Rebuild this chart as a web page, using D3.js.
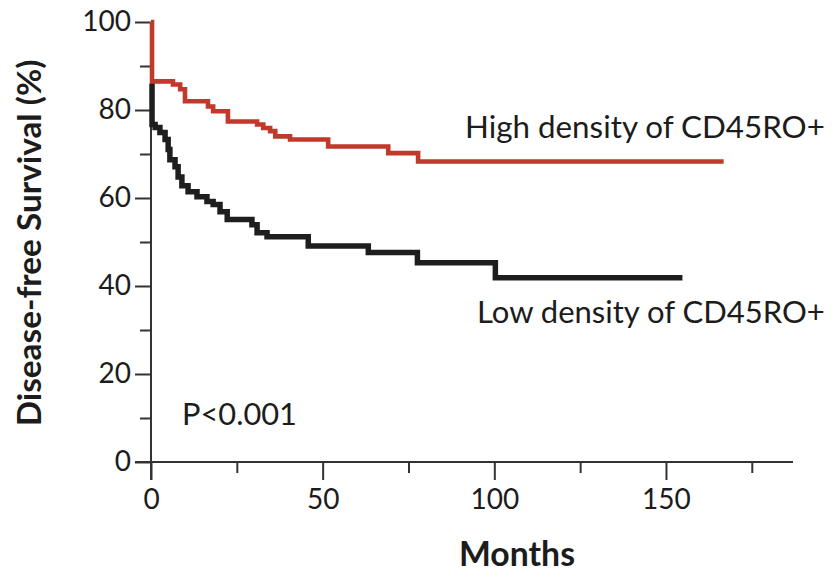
<!DOCTYPE html>
<html>
<head>
<meta charset="utf-8">
<script src="https://cdn.jsdelivr.net/npm/d3@7"></script>
<style>
  html, body { margin: 0; padding: 0; background: #fff; }
  svg { display: block; }
  text { font-family: Lato, "Open Sans", sans-serif; fill: #1c1c1c; }
</style>
</head>
<body>
<svg id="chart" width="832" height="575"></svg>
<script>
// ---- data ----
const highTimes  = [0, 0.3, 6.4, 8.5, 9.9, 16.6, 18.1, 22.4, 30.9, 32.7, 34.7, 36.2, 40.5, 51.6, 69.1, 77.8, 166.8];
const highValues = [100, 86.5, 85.8, 84.7, 82.0, 80.8, 79.7, 77.4, 76.7, 75.9, 75.2, 74.0, 73.3, 71.7, 70.2, 68.3, 68.3];
const lowTimes   = [0, 0.3, 1.2, 2.6, 4.1, 5.0, 5.5, 7.0, 7.9, 9.0, 10.8, 13.4, 16.3, 18.1, 20.1, 22.2, 29.4, 30.9, 33.8, 45.8, 63.3, 77.6, 100.3, 154.8];
const lowValues  = [86, 76.7, 76.0, 74.9, 73.3, 71.0, 68.7, 67.1, 64.8, 62.8, 61.4, 60.3, 59.2, 58.5, 56.9, 55.1, 53.9, 52.1, 51.2, 49.1, 47.6, 45.3, 41.9, 41.9];
const xMajorTicks = [0, 50, 100, 150];
const xMinorTicks = [25, 75, 125, 175];
const yMajorTicks = [0, 20, 40, 60, 80, 100];
const yMinorTicks = [10, 30, 50, 70, 90];
const seriesLabels = ["High density of CD45RO+", "Low density of CD45RO+"];
const pLabel = "P<0.001";
const xTitle = "Months";
const yTitle = "Disease-free Survival (%)";

// ---- layout ----
const svg = d3.select("#chart");
const x = d3.scaleLinear().domain([0, 187]).range([151, 793]);
const y = d3.scaleLinear().domain([0, 100]).range([462, 22]);
const axisColor = "#333";

function fit(sel, w) {
  const node = sel.node();
  const len = node.getComputedTextLength();
  const fs = parseFloat(sel.attr("font-size"));
  sel.attr("font-size", (fs * w / len).toFixed(2));
  return sel;
}

// axis lines
svg.append("line").attr("x1", x(0)).attr("x2", x(0)).attr("y1", y(100)).attr("y2", y(0) + 18)
  .attr("stroke", axisColor).attr("stroke-width", 2);
svg.append("line").attr("x1", x(0) - 16).attr("x2", x(187)).attr("y1", y(0)).attr("y2", y(0))
  .attr("stroke", axisColor).attr("stroke-width", 2);

// y axis ticks
const gy = svg.append("g").attr("transform", `translate(${x(0)},0)`)
  .call(d3.axisLeft(y).tickValues(yMajorTicks).tickSize(16).tickPadding(4).tickFormat(d3.format("d")));
const gyMinor = svg.append("g").attr("transform", `translate(${x(0)},0)`)
  .call(d3.axisLeft(y).tickValues(yMinorTicks).tickSize(11).tickFormat(""));

// x axis ticks
const gx = svg.append("g").attr("transform", `translate(0,${y(0)})`)
  .call(d3.axisBottom(x).tickValues(xMajorTicks).tickSize(18).tickPadding(8).tickFormat(d3.format("d")));
const gxMinor = svg.append("g").attr("transform", `translate(0,${y(0)})`)
  .call(d3.axisBottom(x).tickValues(xMinorTicks).tickSize(11).tickFormat(""));

[gy, gyMinor, gx, gxMinor].forEach(g => {
  g.select(".domain").remove();
  g.selectAll(".tick line").attr("stroke", axisColor).attr("stroke-width", 2);
  g.selectAll(".tick text").attr("font-size", 28).attr("font-family", "Lato, sans-serif").attr("fill", "#1c1c1c");
});
gx.selectAll(".tick text").attr("dy", "0.75em");

// curves
const line = d3.line().x(d => x(d[0])).y(d => y(d[1])).curve(d3.curveStepAfter);
const lowData = lowTimes.map((t, i) => [t, lowValues[i]]);
const highData = highTimes.map((t, i) => [t, highValues[i]]);
svg.append("path").datum(lowData).attr("d", line)
  .attr("fill", "none").attr("stroke", "#1e1e1e").attr("stroke-width", 5.5).attr("stroke-linejoin", "miter");
svg.append("path").datum(highData).attr("d", line)
  .attr("fill", "none").attr("stroke", "#c0392b").attr("stroke-width", 4.6).attr("stroke-linejoin", "miter");

// series labels
const t1 = svg.append("text").attr("x", 465).attr("y", 138).attr("font-size", 26).text(seriesLabels[0]);
fit(t1, 360);
const t2 = svg.append("text").attr("x", 477).attr("y", 323).attr("font-size", 26).text(seriesLabels[1]);
fit(t2, 348);
const tp = svg.append("text").attr("x", 182).attr("y", 425).attr("font-size", 26).text(pLabel);
fit(tp, 115);

// axis titles
const tx = svg.append("text").attr("x", 517).attr("y", 566).attr("text-anchor", "middle")
  .attr("font-size", 28).attr("font-weight", "bold").text(xTitle);
fit(tx, 116);
const ty = svg.append("text").attr("transform", `translate(41,243) rotate(-90)`).attr("text-anchor", "middle")
  .attr("font-size", 28).attr("font-weight", "bold").text(yTitle);
fit(ty, 367);
</script>
</body>
</html>
